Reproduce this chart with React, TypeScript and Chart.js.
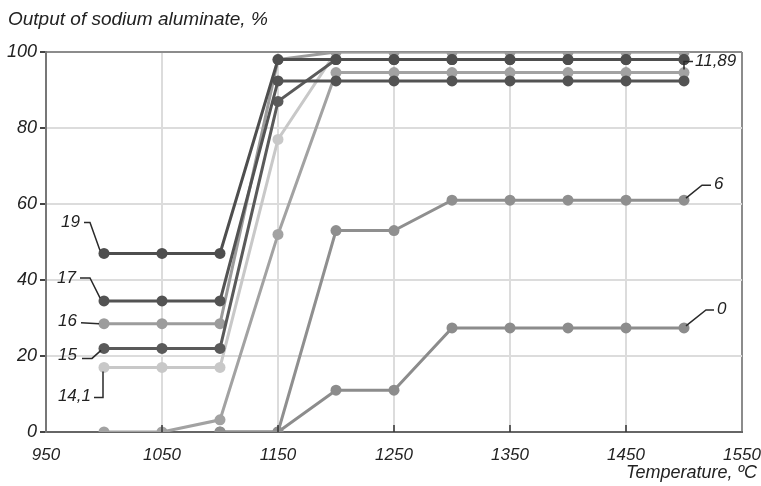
import React, { useEffect, useRef } from "react";
import { Chart, registerables } from "chart.js";

Chart.register(...registerables);

// ---- data ----
const temperatures = [1000, 1050, 1100, 1150, 1200, 1250, 1300, 1350, 1400, 1450, 1500];
const xTickValues = [950, 1050, 1150, 1250, 1350, 1450, 1550];
const yTickValues = [0, 20, 40, 60, 80, 100];

const seriesNames = ["19", "17", "15", "16", "14,1", "11,89", "6", "0"];
const s19 = [47, 47, 47, 98, 98, 98, 98, 98, 98, 98, 98];
const s17 = [34.5, 34.5, 34.5, 92.4, 92.4, 92.4, 92.4, 92.4, 92.4, 92.4, 92.4];
const s15 = [22, 22, 22, 87, 98, 98, 98, 98, 98, 98, 98];
const s16 = [28.5, 28.5, 28.5, 98, 100, 100, 100, 100, 100, 100, 100];
const s14_1 = [17, 17, 17, 77, 100, 100, 100, 100, 100, 100, 100];
const s11_89 = [0, 0, 3.2, 52, 94.6, 94.6, 94.6, 94.6, 94.6, 94.6, 94.6];
const s6 = [null, null, 0, 0, 53, 53, 61, 61, 61, 61, 61];
const s0 = [null, null, 0, 0, 11, 11, 27.4, 27.4, 27.4, 27.4, 27.4];

const seriesValues: (number | null)[][] = [s19, s17, s15, s16, s14_1, s11_89, s6, s0];
const seriesColors = ["#4e4e4e", "#535353", "#5a5a5a", "#9c9c9c", "#c8c8c8", "#a2a2a2", "#8f8f8f", "#8c8c8c"];

const yTitle = "Output of sodium aluminate, %";
const xTitle = "Temperature, \u00BAC";

// label annotations: dataset index, point index, leader offsets (px from point), text offset & alignment
const labelSpecs = [
  { ds: 0, idx: 0, path: [[-4, -3], [-14, -31], [-20, -31]], tx: -24, ty: -31, align: "right" },
  { ds: 1, idx: 0, path: [[-4, -3], [-14, -23], [-24, -23]], tx: -28, ty: -23, align: "right" },
  { ds: 3, idx: 0, path: [[-5, 0], [-23, -1]], tx: -27, ty: -2, align: "right" },
  { ds: 2, idx: 0, path: [[-3, 2], [-12, 10], [-22, 10]], tx: -27, ty: 7, align: "right" },
  { ds: 4, idx: 0, path: [[-1, 4], [-1, 30], [-10, 30]], tx: -13, ty: 29, align: "right" },
  { ds: 5, idx: 10, path: [[0, -3], [0, -11], [9, -11]], tx: 11, ty: -11, align: "left" },
  { ds: 6, idx: 10, path: [[2, -2], [18, -15], [27, -15]], tx: 30, ty: -16, align: "left" },
  { ds: 7, idx: 10, path: [[2, -2], [22, -18], [30, -18]], tx: 33, ty: -19, align: "left" },
];

const FONT = "'Liberation Sans', Arial, Helvetica, sans-serif";

const annotationPlugin = {
  id: "annotations",
  afterDraw(chart: any) {
    const ctx = chart.ctx;
    const xs = chart.scales.x;
    const ys = chart.scales.y;
    const area = chart.chartArea;
    ctx.save();
    // inward tick marks on x axis
    ctx.strokeStyle = "#333";
    ctx.lineWidth = 1.5;
    xTickValues.forEach((v) => {
      if (v === 950 || v === 1550) return;
      const px = xs.getPixelForValue(v);
      ctx.beginPath();
      ctx.moveTo(px, area.bottom);
      ctx.lineTo(px, area.bottom - 7);
      ctx.stroke();
    });
    // leader lines & labels
    ctx.font = `italic 17px ${FONT}`;
    ctx.fillStyle = "#222";
    ctx.textBaseline = "middle";
    labelSpecs.forEach((s) => {
      const v = seriesValues[s.ds][s.idx] as number;
      const px = xs.getPixelForValue(temperatures[s.idx]);
      const py = ys.getPixelForValue(v);
      ctx.strokeStyle = "#2a2a2a";
      ctx.lineWidth = 1.5;
      ctx.beginPath();
      s.path.forEach((p, i) => {
        if (i === 0) ctx.moveTo(px + p[0], py + p[1]);
        else ctx.lineTo(px + p[0], py + p[1]);
      });
      ctx.stroke();
      ctx.textAlign = s.align as CanvasTextAlign;
      ctx.fillText(seriesNames[s.ds], px + s.tx, py + s.ty);
    });
    // axis titles
    ctx.font = `italic 19px ${FONT}`;
    ctx.textAlign = "left";
    ctx.fillText(yTitle, 8, 20);
    ctx.font = `italic 18px ${FONT}`;
    ctx.textAlign = "right";
    ctx.fillText(xTitle, 757, 473);
    ctx.restore();
  },
};

export default function App() {
  const ref = useRef<HTMLCanvasElement | null>(null);
  useEffect(() => {
    if (!ref.current) return;
    Chart.defaults.font.style = "italic";
    Chart.defaults.font.family = FONT;
    const datasets = seriesValues.map((vals, i) => ({
      label: seriesNames[i],
      data: temperatures.map((t, j) => ({ x: t, y: vals[j] })),
      borderColor: seriesColors[i],
      backgroundColor: seriesColors[i],
      pointBackgroundColor: seriesColors[i],
      pointBorderWidth: 0,
      pointRadius: 5.5,
      borderWidth: 3,
      tension: 0,
      spanGaps: false,
    }));
    const tickFont = { family: FONT, size: 17, style: "italic" as const };
    const chart = new Chart(ref.current, {
      type: "line",
      data: { datasets: datasets as any },
      options: {
        animation: false,
        responsive: false,
        events: [],
        layout: { padding: { top: 52, left: 0, right: 19, bottom: 0 } },
        plugins: { legend: { display: false }, tooltip: { enabled: false } },
        scales: {
          x: {
            type: "linear",
            min: 950,
            max: 1550,
            afterFit: (s: any) => {
              s.height = 54;
              s.paddingLeft = 0;
              s.paddingRight = 0;
            },
            afterBuildTicks: (s: any) => {
              s.ticks = xTickValues.map((v) => ({ value: v }));
            },
            ticks: {
              font: tickFont,
              color: "#222",
              padding: 13,
              maxRotation: 0,
              callback: (v: any) => String(v),
            },
            grid: {
              drawTicks: false,
              lineWidth: 2,
              color: (c: any) => (c.tick && c.tick.value === 1550 ? "#8c8c8c" : "#dcdcdc"),
            },
            border: { color: "#666", width: 2 },
          },
          y: {
            min: 0,
            max: 100,
            afterFit: (s: any) => {
              s.width = 46;
              s.paddingTop = 0;
              s.paddingBottom = 0;
            },
            afterBuildTicks: (s: any) => {
              s.ticks = yTickValues.map((v) => ({ value: v }));
            },
            ticks: {
              font: { family: FONT, size: 18, style: "italic" as const },
              color: "#222",
              padding: 3,
              callback: (v: any) => String(v),
            },
            grid: {
              lineWidth: 2,
              tickLength: 6,
              tickColor: "#444",
              color: (c: any) => (c.tick && c.tick.value === 100 ? "#8c8c8c" : "#dcdcdc"),
            },
            border: { color: "#777", width: 2 },
          },
        },
      },
      plugins: [annotationPlugin],
    });
    return () => chart.destroy();
  }, []);
  return (
    <div style={{ position: "absolute", left: 0, top: 0, width: 761, height: 486, background: "#fff" }}>
      <canvas ref={ref} width={761} height={486} style={{ display: "block" }} />
    </div>
  );
}
